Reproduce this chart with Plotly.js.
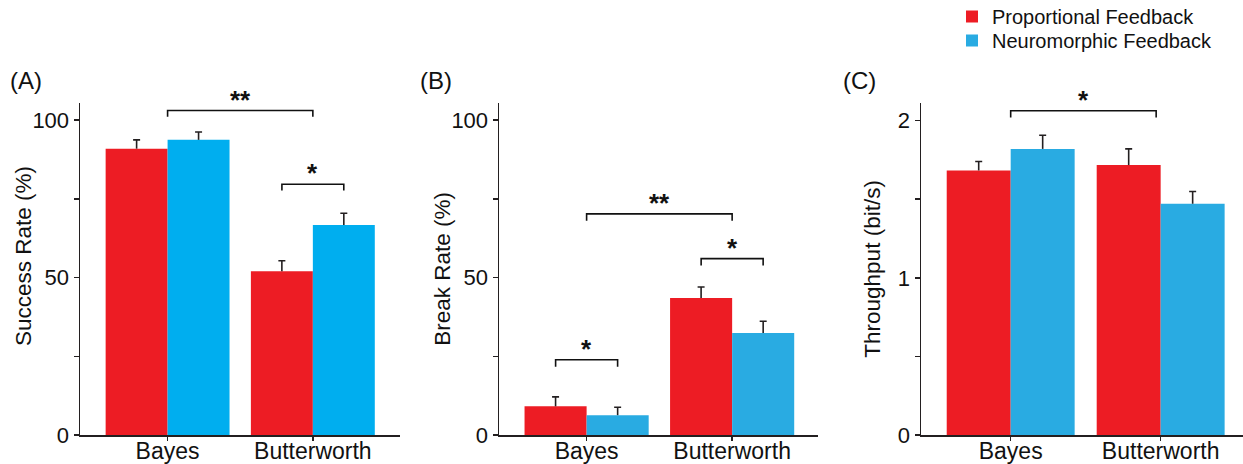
<!DOCTYPE html>
<html>
<head>
<meta charset="utf-8">
<script src="https://cdn.plot.ly/plotly-3.0.1.min.js"></script>
<style>html,body{margin:0;padding:0;background:#fff;}#chart{width:1243px;height:464px;}</style>
</head>
<body>
<div id="chart"></div>
<script>
// ---- data ----
const categories = ['Bayes', 'Butterworth'];
const seriesNames = ['Proportional Feedback', 'Neuromorphic Feedback'];
const yTitles = ['Success Rate (%)', 'Break Rate (%)', 'Throughput (bit/s)'];
const panelLabels = ['(A)', '(B)', '(C)'];

const successProp = [90.9, 52.0];
const successPropErr = [2.8, 3.3];
const successNeuro = [93.7, 66.7];
const successNeuroErr = [2.5, 3.7];

const breakProp = [9.1, 43.5];
const breakPropErr = [3.0, 3.5];
const breakNeuro = [6.3, 32.4];
const breakNeuroErr = [2.5, 3.7];

const tputProp = [1.683, 1.717];
const tputPropErr = [0.057, 0.103];
const tputNeuro = [1.820, 1.471];
const tputNeuroErr = [0.087, 0.078];

// significance brackets: [x0 (category index), x1, y, label]
const sigA = [[0, 1, 103, '**'], [0.787, 1.213, 79.6, '*']];
const sigB = [[0, 1, 70.2, '**'], [0.787, 1.213, 56.0, '*'], [-0.213, 0.213, 23.9, '*']];
const sigC = [[0, 0.97, 2.063, '*']];

const yTicksA = [0, 25, 50, 75, 100];
const yTextA = ['0', '', '50', '', '100'];
const yTicksC = [0, 0.5, 1, 1.5, 2];
const yTextC = ['0', '', '1', '', '2'];

// ---- styles ----
const RED = '#ED1C24';
const BLUE_A = '#00AEEF';
const BLUE = '#29ABE2';
const INK = '#231F20';
const FONT = 'Arial, "Liberation Sans", sans-serif';

// bar with the error-bar stem (no caps)
function bar(name, vals, errs, color, xa, ya, og, legend, showlegend) {
  return {
    type: 'bar', name: name, x: categories, y: vals,
    xaxis: xa, yaxis: ya, offsetgroup: og, legend: legend, showlegend: showlegend,
    marker: {color: color, line: {width: 0}},
    error_y: {type: 'data', symmetric: false, array: errs, arrayminus: errs.map(() => 0),
              color: INK, thickness: 1.6, width: 0},
    hoverinfo: 'x+y'
  };
}
// cap of the error bar, placed at value + error
function cap(vals, errs, xa, ya, og) {
  return {
    type: 'scatter', mode: 'markers', x: categories, y: vals.map((v, i) => v + errs[i]),
    xaxis: xa, yaxis: ya, offsetgroup: og, showlegend: false, hoverinfo: 'skip',
    marker: {color: 'rgba(0,0,0,0)', size: 1},
    error_y: {type: 'data', symmetric: false, array: errs.map(() => 0), arrayminus: errs.map(() => 0),
              color: INK, thickness: 1.6, width: 3.5},
    cliponaxis: false
  };
}

const data = [
  bar(seriesNames[0], successProp, successPropErr, RED, 'x', 'y', 'p', 'legend', false),
  bar(seriesNames[1], successNeuro, successNeuroErr, BLUE_A, 'x', 'y', 'n', 'legend', false),
  bar(seriesNames[0], breakProp, breakPropErr, RED, 'x2', 'y2', 'p', 'legend', true),
  bar(seriesNames[1], breakNeuro, breakNeuroErr, BLUE, 'x2', 'y2', 'n', 'legend2', true),
  bar(seriesNames[0], tputProp, tputPropErr, RED, 'x3', 'y3', 'p', 'legend', false),
  bar(seriesNames[1], tputNeuro, tputNeuroErr, BLUE, 'x3', 'y3', 'n', 'legend', false),
  cap(successProp, successPropErr, 'x', 'y', 'p'),
  cap(successNeuro, successNeuroErr, 'x', 'y', 'n'),
  cap(breakProp, breakPropErr, 'x2', 'y2', 'p'),
  cap(breakNeuro, breakNeuroErr, 'x2', 'y2', 'n'),
  cap(tputProp, tputPropErr, 'x3', 'y3', 'p'),
  cap(tputNeuro, tputNeuroErr, 'x3', 'y3', 'n')
];

function xaxis(domain, range, anchor) {
  return {
    domain: domain, anchor: anchor, type: 'category', categoryarray: categories,
    range: range, showline: true, linecolor: INK, linewidth: 1.5,
    ticks: 'outside', ticklen: 4, tickwidth: 1.5, tickcolor: INK,
    ticklabelstandoff: -9,
    tickfont: {family: FONT, size: 23, color: '#111'},
    showgrid: false, zeroline: false, fixedrange: true, automargin: false
  };
}
function yaxis(domain, range, anchor, tv, tt) {
  return {
    domain: domain, anchor: anchor, range: range,
    tickvals: tv, ticktext: tt,
    showline: true, linecolor: INK, linewidth: 1.5,
    ticks: 'outside', ticklen: 5, tickwidth: 1.5, tickcolor: INK,
    tickfont: {family: FONT, size: 22, color: '#111'},
    showgrid: false, zeroline: false, fixedrange: true, automargin: false
  };
}

const yDom = [0.0625, 0.778];
const shapes = [];
const annotations = [];
function addSig(list, xr, yr, drop) {
  list.forEach(s => {
    shapes.push({type: 'path', xref: xr, yref: yr,
      path: 'M' + s[0] + ',' + (s[2] - drop) + ' L' + s[0] + ',' + s[2] + ' L' + s[1] + ',' + s[2] + ' L' + s[1] + ',' + (s[2] - drop),
      line: {color: '#111', width: 1.6}});
    annotations.push({xref: xr, yref: yr, x: (s[0] + s[1]) / 2, y: s[2], text: '<b>' + s[3] + '</b>',
      showarrow: false, yanchor: 'bottom', yshift: -6,
      font: {family: FONT, size: 26, color: '#111'}});
  });
}
addSig(sigA, 'x', 'y', 2.0);
addSig(sigB, 'x2', 'y2', 2.2);
addSig(sigC, 'x3', 'y3', 0.043);

// panel letters
[8, 418, 841].forEach((px, i) => {
  annotations.push({xref: 'paper', yref: 'paper', x: px / 1243, y: 1 - 81 / 464,
    xanchor: 'left', yanchor: 'middle', text: panelLabels[i], showarrow: false,
    font: {family: FONT, size: 24, color: '#111'}});
});
// y-axis titles
[[23, 256], [441.7, 269], [871.7, 269]].forEach((p, i) => {
  annotations.push({xref: 'paper', yref: 'paper', x: p[0] / 1243, y: 1 - p[1] / 464,
    xanchor: 'center', yanchor: 'middle', textangle: -90, text: yTitles[i], showarrow: false,
    font: {family: FONT, size: 22.5, color: '#111'}});
});

const legendStyle = {xanchor: 'left', yanchor: 'top',
  font: {family: FONT, size: 20, color: '#111'}, bgcolor: 'rgba(0,0,0,0)', itemwidth: 30};

const layout = {
  width: 1243, height: 464,
  margin: {l: 0, r: 0, t: 0, b: 0, autoexpand: false},
  paper_bgcolor: '#fff', plot_bgcolor: 'rgba(0,0,0,0)',
  barmode: 'group', bargap: 0.147, bargroupgap: 0,
  scattermode: 'group', scattergap: 0.147,
  font: {family: FONT, color: '#111'},
  showlegend: true,
  legend: Object.assign({x: 952 / 1243, y: 1 + 3 / 464}, legendStyle),
  legend2: Object.assign({x: 952 / 1243, y: 1 - 21 / 464}, legendStyle),
  xaxis: xaxis([80 / 1243, 400 / 1243], [-0.603, 1.6], 'y'),
  yaxis: yaxis(yDom, [0, 105.4], 'x', yTicksA, yTextA),
  xaxis2: xaxis([499 / 1243, 818 / 1243], [-0.602, 1.59], 'y2'),
  yaxis2: yaxis(yDom, [0, 105.4], 'x2', yTicksA, yTextA),
  xaxis3: xaxis([921 / 1243, 1], [-0.598, 1.549], 'y3'),
  yaxis3: yaxis(yDom, [0, 2.112], 'x3', yTicksC, yTextC),
  shapes: shapes,
  annotations: annotations
};

Plotly.newPlot('chart', data, layout, {displayModeBar: false, staticPlot: true});
</script>
</body>
</html>
